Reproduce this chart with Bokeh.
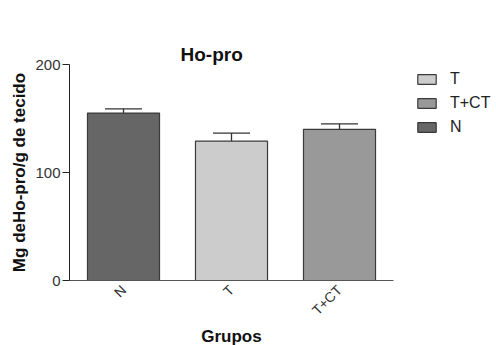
from bokeh.plotting import figure
from bokeh.models import (ColumnDataSource, Whisker, TeeHead, Legend, LegendItem,
                          FixedTicker, FactorRange, Range1d, Title)
from bokeh.embed import file_html
from bokeh.resources import INLINE

# ---- data ----
groups = ["N", "T", "T+CT"]
means = [155, 129, 140]
sem = [4, 7.5, 5]
bar_colors = ["#666666", "#cccccc", "#999999"]
legend_order = ["T", "T+CT", "N"]
y_ticks = [0, 100, 200]

title_text = "Ho-pro"
x_label = "Grupos"
y_label = "Mg deHo-pro/g de tecido"

FONT = "Liberation Sans"

p = figure(frame_width=324, frame_height=216, x_range=FactorRange(*groups, range_padding=0),
           y_range=Range1d(0, 200), output_backend="svg", toolbar_location=None,
           min_border_left=69, min_border_right=103, min_border_top=64, min_border_bottom=65)
p.outline_line_color = None
p.xgrid.grid_line_color = None
p.ygrid.grid_line_color = None

# invisible spacer (closest to the plot area) pushes the real title upward
p.title.text = "."
p.title.text_font_size = "1px"
p.title.text_alpha = 0
p.title.standoff = 27

main_title = Title(text=title_text, align="left", offset=111, standoff=0,
                   text_font=FONT, text_font_size="19px", text_font_style="bold",
                   text_color="#111111")
p.add_layout(main_title, "above")

renderers = {}
for g, m, c in zip(groups, means, bar_colors):
    r = p.vbar(x=[g], top=[m], width=0.667, fill_color=c, line_color="#3a3a3a", line_width=1.2)
    renderers[g] = r

err_src = ColumnDataSource(dict(x=groups, upper=[m + s for m, s in zip(means, sem)], lower=means))
w = Whisker(base="x", upper="upper", lower="lower", source=err_src,
            line_color="#333333", line_width=1.3,
            upper_head=TeeHead(size=37, line_color="#333333", line_width=1.3), lower_head=None)
p.add_layout(w)

# axes
p.yaxis.ticker = FixedTicker(ticks=y_ticks)
p.yaxis.minor_tick_line_color = None
p.yaxis.major_tick_in = 0
p.yaxis.major_tick_out = 7
p.yaxis.axis_line_color = "#222222"
p.yaxis.major_tick_line_color = "#222222"
p.yaxis.major_label_text_font = FONT
p.yaxis.major_label_text_font_size = "15px"
p.yaxis.major_label_text_color = "#333333"
p.yaxis.major_label_standoff = 2
p.yaxis.axis_label = y_label
p.yaxis.axis_label_text_font = FONT
p.yaxis.axis_label_text_font_style = "bold"
p.yaxis.axis_label_text_font_size = "17px"
p.yaxis.axis_label_text_color = "#111111"
p.yaxis.axis_label_standoff = 3

p.xaxis.major_tick_line_color = None
p.xaxis.minor_tick_line_color = None
p.xaxis.major_tick_out = 0
p.xaxis.axis_line_color = "#555555"
p.xaxis.major_label_orientation = 0.785398
p.xaxis.major_label_text_font = FONT
p.xaxis.major_label_text_font_size = "14px"
p.xaxis.major_label_text_color = "#333333"
p.xaxis.major_label_standoff = 7
p.xaxis.axis_label = x_label
p.xaxis.axis_label_text_font = FONT
p.xaxis.axis_label_text_font_style = "bold"
p.xaxis.axis_label_text_font_size = "17px"
p.xaxis.axis_label_text_color = "#111111"
p.xaxis.axis_label_standoff = 0

legend = Legend(items=[LegendItem(label=g, renderers=[renderers[g]]) for g in legend_order],
                location=(22, 143), padding=0, margin=0, spacing=4,
                glyph_width=23, glyph_height=12, label_height=20, label_standoff=12,
                label_text_font=FONT, label_text_font_size="16px", label_text_color="#222222",
                border_line_color=None, background_fill_alpha=0)
p.add_layout(legend, "right")

open("out.html", "w").write(file_html(p, INLINE))
